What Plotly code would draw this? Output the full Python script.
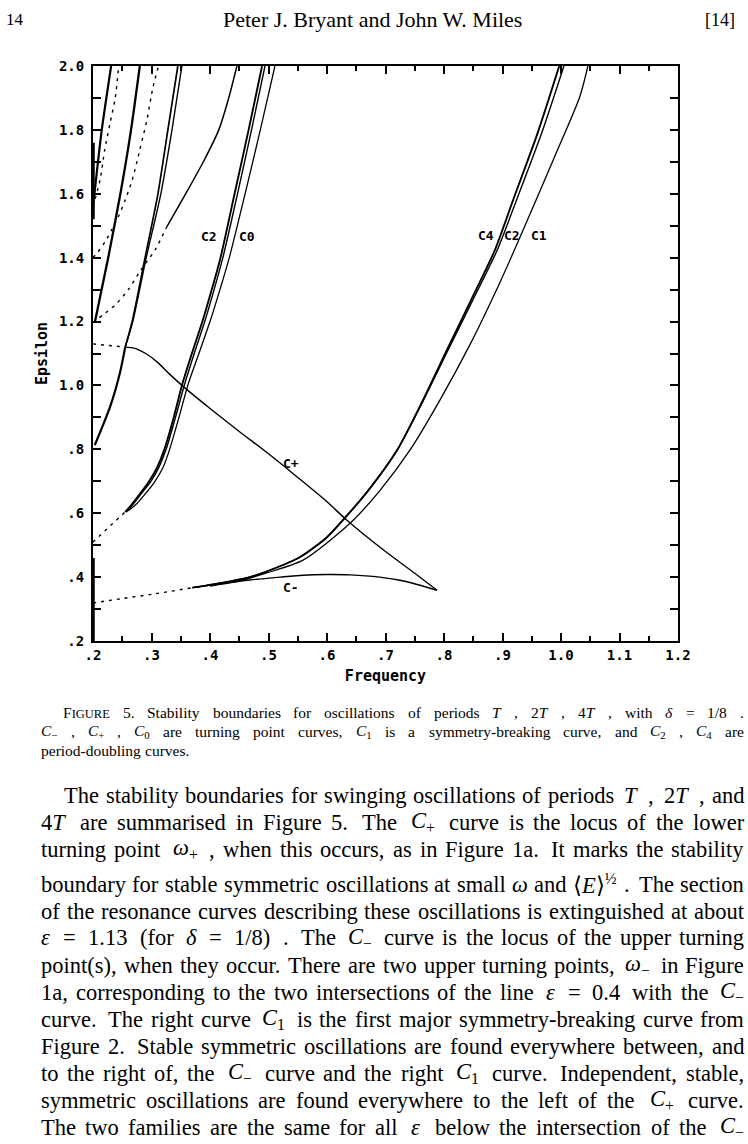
import re
import plotly.graph_objects as go

# ---------------- data ----------------
# C+ turning-point curve
cplus_x = [0.255, 0.27, 0.29, 0.31, 0.33, 0.354, 0.40, 0.45, 0.50, 0.55, 0.60, 0.634, 0.70, 0.75, 0.788]
cplus_y = [1.12, 1.117, 1.10, 1.073, 1.037, 0.997, 0.928, 0.856, 0.786, 0.712, 0.636, 0.578, 0.48, 0.412, 0.359]
cplus_dot_x = [0.2, 0.255]
cplus_dot_y = [1.13, 1.12]

# C- turning-point curve
cminus_x = [0.37, 0.42, 0.468, 0.52, 0.559, 0.60, 0.64, 0.69, 0.725, 0.754, 0.788]
cminus_y = [0.367, 0.38, 0.391, 0.40, 0.406, 0.408, 0.407, 0.40, 0.39, 0.377, 0.359]
cminus_dot_x = [0.2, 0.25, 0.30, 0.37]
cminus_dot_y = [0.319, 0.333, 0.346, 0.367]

# right family: C4, C2 (nearly coincident) and C1
r_c4_x = [0.37, 0.42, 0.468, 0.503, 0.554, 0.60, 0.629, 0.67, 0.72, 0.764, 0.805, 0.847, 0.887, 0.92, 0.96, 0.997]
r_c4_y = [0.367, 0.382, 0.40, 0.422, 0.463, 0.525, 0.582, 0.67, 0.798, 0.954, 1.111, 1.27, 1.424, 1.59, 1.79, 2.0]
r_c2_x = [0.37, 0.42, 0.468, 0.503, 0.554, 0.60, 0.629, 0.67, 0.72, 0.765, 0.807, 0.850, 0.891, 0.926, 0.967, 1.005]
r_c2_y = [0.367, 0.382, 0.40, 0.422, 0.463, 0.525, 0.582, 0.67, 0.798, 0.954, 1.111, 1.27, 1.424, 1.59, 1.79, 2.0]
r_c1_x = [0.40, 0.443, 0.497, 0.559, 0.638, 0.69, 0.742, 0.793, 0.845, 0.896, 0.933, 0.99, 1.032, 1.046]
r_c1_y = [0.372, 0.385, 0.413, 0.453, 0.566, 0.67, 0.798, 0.954, 1.13, 1.324, 1.477, 1.72, 1.903, 2.0]

# left family: C2 (pair) and C0
l_c2a_x = [0.255, 0.265, 0.28, 0.296, 0.31, 0.322, 0.338, 0.352, 0.369, 0.387, 0.403, 0.418, 0.442, 0.466, 0.489]
l_c2a_y = [0.604, 0.625, 0.66, 0.70, 0.745, 0.80, 0.90, 1.0, 1.1, 1.2, 1.3, 1.4, 1.6, 1.8, 2.0]
l_c2b_x = [0.256, 0.267, 0.282, 0.299, 0.313, 0.325, 0.341, 0.356, 0.373, 0.391, 0.407, 0.422, 0.447, 0.471, 0.494]
l_c2b_y = [0.604, 0.625, 0.66, 0.70, 0.745, 0.80, 0.90, 1.0, 1.1, 1.2, 1.3, 1.4, 1.6, 1.8, 2.0]
l_c0_x = [0.257, 0.272, 0.289, 0.306, 0.32, 0.331, 0.347, 0.362, 0.381, 0.400, 0.417, 0.433, 0.460, 0.486, 0.511]
l_c0_y = [0.604, 0.625, 0.66, 0.70, 0.745, 0.80, 0.90, 1.0, 1.1, 1.2, 1.3, 1.4, 1.6, 1.8, 2.0]
l_dot_x = [0.2, 0.255]
l_dot_y = [0.51, 0.604]

# curve rising from (0.2, 0.81) to the C+ start, then a close pair
p6_low_x = [0.203, 0.229, 0.246, 0.255]
p6_low_y = [0.813, 0.932, 1.039, 1.12]
p6a_x = [0.255, 0.267, 0.289, 0.311, 0.328, 0.345]
p6a_y = [1.12, 1.2, 1.4, 1.6, 1.8, 2.0]
p6b_x = [0.255, 0.268, 0.291, 0.316, 0.335, 0.352]
p6b_y = [1.12, 1.2, 1.4, 1.6, 1.8, 2.0]

# curve from (0.2, 1.2): dotted part then solid part
c5_dot_x = [0.2, 0.217, 0.238, 0.26, 0.282, 0.306, 0.326]
c5_dot_y = [1.197, 1.221, 1.252, 1.299, 1.362, 1.424, 1.496]
c5_x = [0.326, 0.36, 0.39, 0.415, 0.432, 0.446]
c5_y = [1.496, 1.605, 1.705, 1.8, 1.9, 2.0]

# upper-left curves
la_x = [0.2, 0.203, 0.215, 0.231]
la_y = [1.56, 1.61, 1.8, 2.0]
lb_x = [0.2, 0.212, 0.22, 0.229, 0.238, 0.244]
lb_y = [1.56, 1.643, 1.737, 1.82, 1.90, 2.0]
lc_x = [0.203, 0.226, 0.248, 0.265, 0.28]
lc_y = [1.196, 1.4, 1.612, 1.8, 2.0]
ld_x = [0.2, 0.2085, 0.2205, 0.232, 0.243, 0.255, 0.267, 0.28, 0.292, 0.3026, 0.312]
ld_y = [1.40, 1.418, 1.449, 1.487, 1.527, 1.58, 1.643, 1.737, 1.83, 1.934, 2.0]

# segments running along the left axis
axis1_y = [0.2, 0.46]
axis2_y = [1.52, 1.76]

curve_labels = ["C2", "C0", "C4", "C2", "C1", "C+", "C-"]
curve_label_x = [0.398, 0.463, 0.872, 0.916, 0.963, 0.538, 0.538]
curve_label_y = [1.465, 1.465, 1.47, 1.47, 1.47, 0.757, 0.366]

x_tickvals = [0.2, 0.3, 0.4, 0.5, 0.6, 0.7, 0.8, 0.9, 1.0, 1.1, 1.2]
x_ticktext = [".2", ".3", ".4", ".5", ".6", ".7", ".8", ".9", "1.0", "1.1", "1.2"]
y_tickvals = [0.2, 0.3, 0.4, 0.5, 0.6, 0.7, 0.8, 0.9, 1.0, 1.1, 1.2, 1.3, 1.4, 1.5, 1.6, 1.7, 1.8, 1.9, 2.0]
y_ticktext = [".2", "", ".4", "", ".6", "", ".8", "", "1.0", "", "1.2", "", "1.4", "", "1.6", "", "1.8", "", "2.0"]

header_left = "14"
header_center = "Peter J. Bryant and John W. Miles"
header_right = "[14]"

# a double space marks a slightly wider (math) gap
caption_lines = [
    "F<span style='font-size:12.5px'>IGURE</span> 5. Stability boundaries for oscillations of periods <i>T</i> , 2<i>T</i> , 4<i>T</i> , with <i>δ</i> = 1/8 .",
    "<i>C</i><sub>−</sub> , <i>C</i><sub>+</sub> , <i>C</i><sub>0</sub> are turning point curves, <i>C</i><sub>1</sub> is a symmetry-breaking curve, and <i>C</i><sub>2</sub> , <i>C</i><sub>4</sub> are",
    "period-doubling curves.",
]
caption_justify = [True, True, False]
caption_py = [712, 731, 750]
caption_px = [62, 40, 40]

body_lines = [
    "The stability boundaries for swinging oscillations of periods  <i>T</i>  ,  2<i>T</i>  , and",
    "4<i>T</i>  are summarised in Figure 5.  The  <i>C</i><sub>+</sub>  curve is the locus of the lower",
    "turning point  <i>ω</i><sub>+</sub>  , when this occurs, as in Figure 1a.  It marks the stability",
    "boundary for stable symmetric oscillations at small <i>ω</i> and ⟨<i>E</i>⟩<sup>½</sup>  .  The section",
    "of the resonance curves describing these oscillations is extinguished at about",
    "<i>ε</i>  =  1.13  (for  <i>δ</i>  =  1/8)  .  The  <i>C</i><sub>−</sub>  curve is the locus of the upper turning",
    "point(s), when they occur. There are two upper turning points,  <i>ω</i><sub>−</sub>  in Figure",
    "1a, corresponding to the two intersections of the line  <i>ε</i>  =  0.4  with the  <i>C</i><sub>−</sub>",
    "curve.  The right curve  <i>C</i><sub>1</sub>  is the first major symmetry-breaking curve from",
    "Figure 2.  Stable symmetric oscillations are found everywhere between, and",
    "to the right of, the  <i>C</i><sub>−</sub>  curve and the right  <i>C</i><sub>1</sub>  curve.  Independent, stable,",
    "symmetric oscillations are found everywhere to the left of the  <i>C</i><sub>+</sub>  curve.",
    "The two families are the same for all  <i>ε</i>  below the intersection of the  <i>C</i><sub>−</sub>",
]
body_py = [795, 822, 849, 884, 911, 938, 965, 992, 1019, 1046, 1073, 1100, 1127]
body_px = [63, 40, 40, 40, 40, 40, 40, 40, 40, 40, 40, 40, 40]

# ---------------- layout geometry ----------------
W, H = 748, 1144
L, R, T, B = 93, 678, 66, 641
TEXT_RIGHT = 743


def px(xp):
    return (xp - L) / (R - L)


def py(yp):
    return (B - yp) / (B - T)


# Times-Roman advance widths (per 1000 em) for approximate text measuring
TW = {' ': 250, '!': 333, '(': 333, ')': 333, ',': 250, '-': 333, '.': 250, '/': 278, ':': 278,
      ';': 278, '=': 564, '+': 564, '−': 564, '[': 333, ']': 333, '⟨': 333, '⟩': 333, '½': 750,
      'ω': 690, 'ε': 440, 'δ': 500,
      'A': 722, 'B': 667, 'C': 667, 'D': 722, 'E': 611, 'F': 556, 'G': 722, 'H': 722, 'I': 333,
      'J': 389, 'K': 722, 'L': 611, 'M': 889, 'N': 722, 'O': 722, 'P': 556, 'Q': 722, 'R': 667,
      'S': 556, 'T': 611, 'U': 722, 'V': 722, 'W': 944, 'X': 722, 'Y': 722, 'Z': 611,
      'a': 444, 'b': 500, 'c': 444, 'd': 500, 'e': 444, 'f': 333, 'g': 500, 'h': 500, 'i': 278,
      'j': 278, 'k': 500, 'l': 278, 'm': 778, 'n': 500, 'o': 500, 'p': 500, 'q': 500, 'r': 333,
      's': 389, 't': 278, 'u': 500, 'v': 500, 'w': 722, 'x': 500, 'y': 500, 'z': 444}


def plain_width(s, size):
    return sum(TW.get(ch, 500) for ch in s) * size / 1000.0


def token_width(tok, size):
    parts = re.split(r"(<sub>.*?</sub>|<sup>.*?</sup>|<span[^>]*>.*?</span>)", tok)
    w = 0.0
    for p in parts:
        if not p:
            continue
        txt = re.sub(r"<[^>]+>", "", p)
        if p.startswith("<sub>") or p.startswith("<sup>"):
            w += plain_width(txt, size * 0.7)
        elif p.startswith("<span"):
            m = re.search(r"font-size:([\d.]+)px", p)
            w += plain_width(txt, float(m.group(1)) if m else size)
        else:
            w += plain_width(txt, size)
    return w


fig = go.Figure()


def add(xs, ys, width=1.4, dash=None, shape="spline"):
    fig.add_trace(go.Scatter(
        x=xs, y=ys, mode="lines",
        line=dict(color="black", width=width, dash=dash, shape=shape, smoothing=0.7),
        showlegend=False, hoverinfo="skip", cliponaxis=True))


DOT = "3px,5px"
add(cplus_x, cplus_y, 1.4)
add(cplus_dot_x, cplus_dot_y, 1.4, DOT, "linear")
add(cminus_x, cminus_y, 1.4)
add(cminus_dot_x, cminus_dot_y, 1.4, DOT)
add(r_c4_x, r_c4_y, 1.9)
add(r_c2_x, r_c2_y, 1.4)
add(r_c1_x, r_c1_y, 1.3)
add(l_c2a_x, l_c2a_y, 1.9)
add(l_c2b_x, l_c2b_y, 1.4)
add(l_c0_x, l_c0_y, 1.3)
add(l_dot_x, l_dot_y, 1.4, DOT, "linear")
add(p6_low_x, p6_low_y, 2.2)
add(p6a_x, p6a_y, 1.7)
add(p6b_x, p6b_y, 1.4)
add(c5_dot_x, c5_dot_y, 1.4, DOT)
add(c5_x, c5_y, 1.5)
add(la_x, la_y, 2.2)
add(lb_x, lb_y, 1.4, DOT)
add(lc_x, lc_y, 2.3)
add(ld_x, ld_y, 1.4, DOT)
add([0.2, 0.2], axis1_y, 3.5, None, "linear")
add([0.2, 0.2], axis2_y, 3.5, None, "linear")

mono = "DejaVu Sans Mono"
for t, xv, yv in zip(curve_labels, curve_label_x, curve_label_y):
    fig.add_annotation(x=xv, y=yv, text="<b>" + t + "</b>", showarrow=False, xref="x", yref="y",
                       font=dict(family=mono, size=13, color="black"))

axis_common = dict(showline=True, linecolor="black", linewidth=2, mirror="allticks",
                   ticks="inside", tickcolor="black", tickwidth=1.7, ticklen=8,
                   showgrid=False, zeroline=False,
                   tickfont=dict(family=mono, size=14, color="black", weight="bold"))
fig.update_xaxes(range=[0.2, 1.2], tickmode="array", tickvals=x_tickvals, ticktext=x_ticktext,
                 minor=dict(ticks="inside", ticklen=5, tickwidth=1.7, tickcolor="black",
                            dtick=0.05, tick0=0.2, showgrid=False),
                 title=dict(text="Frequency", font=dict(family=mono, size=15, color="black", weight="bold"),
                            standoff=9),
                 **axis_common)
fig.update_yaxes(range=[0.2, 2.0], tickmode="array", tickvals=y_tickvals, ticktext=y_ticktext,
                 ticklabelstandoff=4,
                 title=dict(text="Epsilon", font=dict(family=mono, size=15, color="black", weight="bold"),
                            standoff=8),
                 **axis_common)

serif = "Liberation Serif"
# running header
fig.add_annotation(x=px(4), y=py(20), xref="paper", yref="paper", text=header_left, showarrow=False,
                   xanchor="left", yanchor="middle", font=dict(family=serif, size=17, color="black"))
fig.add_annotation(x=px(372), y=py(20), xref="paper", yref="paper", text=header_center, showarrow=False,
                   xanchor="center", yanchor="middle", font=dict(family=serif, size=22, color="black"))
fig.add_annotation(x=px(737), y=py(20), xref="paper", yref="paper", text=header_right, showarrow=False,
                   xanchor="right", yanchor="middle", font=dict(family=serif, size=18, color="black"))


def add_text_line(text, x0, yline, size, justify, wide=1.5):
    # split on spaces that are not inside a tag; remember gap weights
    pieces = re.split(r"( +)(?![^<]*>)", text)
    toks = pieces[0::2]
    seps = pieces[1::2]
    weights = [wide if len(s) > 1 else 1.0 for s in seps]
    widths = [token_width(t, size) for t in toks]
    base_gap = TW[' '] * size / 1000.0
    if justify and len(toks) > 1:
        k = (TEXT_RIGHT - x0 - sum(widths)) / sum(weights)
    else:
        k = base_gap
    xcur = x0
    for i, (t, w) in enumerate(zip(toks, widths)):
        fig.add_annotation(x=px(xcur), y=py(yline), xref="paper", yref="paper", text=t,
                           showarrow=False, xanchor="left", yanchor="middle", align="left",
                           borderpad=0, font=dict(family=serif, size=size, color="black"))
        if i < len(weights):
            xcur += w + k * weights[i]


for t, xp, yp, j in zip(caption_lines, caption_px, caption_py, caption_justify):
    add_text_line(t, xp, yp, 15.5, j)

for t, xp, yp in zip(body_lines, body_px, body_py):
    add_text_line(t, xp, yp, 22.5, True)

fig.update_layout(width=W, height=H, margin=dict(l=L, r=W - R, t=T, b=H - B, autoexpand=False),
                  paper_bgcolor="white", plot_bgcolor="white")

fig.write_html("out.html", config={"displayModeBar": False},
               post_script="document.body.style.margin='0';document.body.style.padding='0';")
